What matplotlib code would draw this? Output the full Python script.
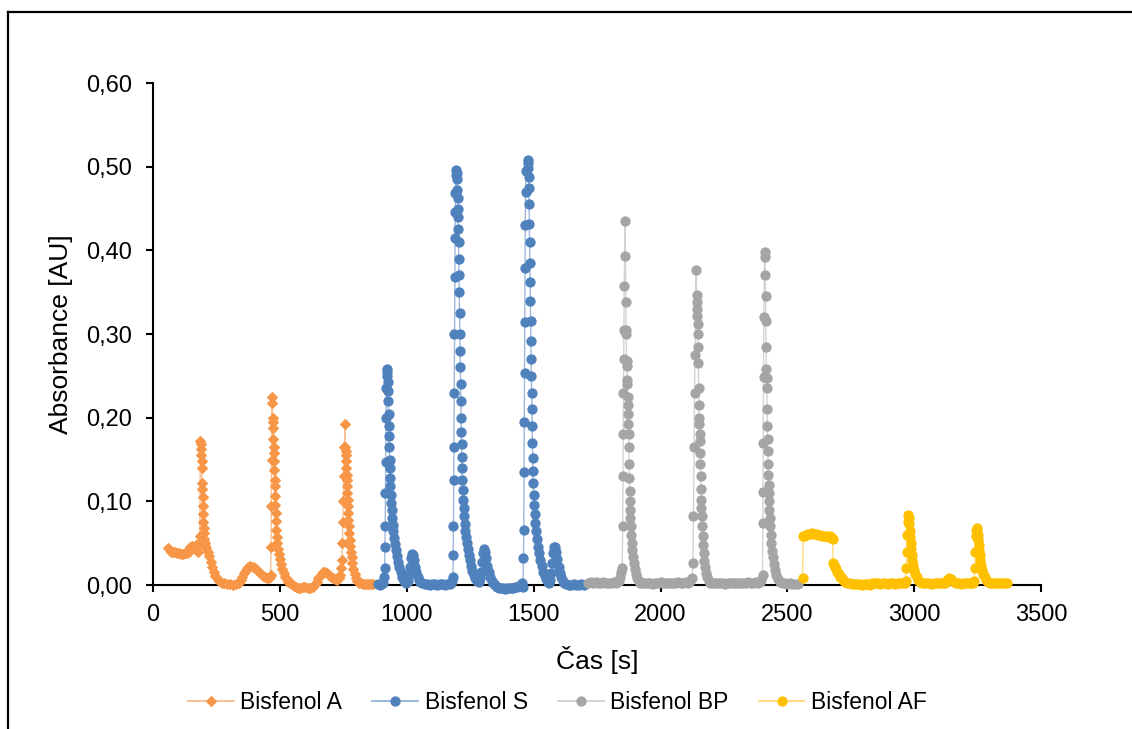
import matplotlib
matplotlib.use("Agg")
import matplotlib.pyplot as plt
from matplotlib.lines import Line2D
from matplotlib.ticker import FuncFormatter, MultipleLocator

plt.rcParams['font.family'] = ['Liberation Sans', 'DejaVu Sans']

# ============================================================================
# DATA
# ============================================================================
bpa_t = [60, 65, 70, 78, 86, 94, 102, 110, 118, 126,
         134, 140, 146, 152, 158, 164, 170, 176, 180, 184,
         187, 188, 189, 190, 191, 192, 193, 194, 195, 196, 197, 198, 199, 200, 202, 204, 206,
         210, 216, 222, 228, 234, 240, 246, 252, 260, 270, 280, 292, 304, 316, 328, 338,
         345, 352, 360, 368, 376, 384, 392, 400, 408, 416, 424, 432, 440, 448, 456, 462,
         463, 465, 466, 467, 468,
         470, 471, 472, 473, 474, 475, 476, 477, 478, 479, 480, 481, 482, 483, 484, 486, 488, 490, 493, 496,
         500, 505, 510, 515, 520, 526, 533, 540, 548, 556, 564, 572, 580, 590, 600, 610, 620, 630, 638,
         645, 652, 660, 668, 676, 684, 692, 700, 708, 716, 724, 732, 738, 742,
         744, 746, 748, 750, 752, 754, 756,
         758, 759, 760, 761, 762, 763, 764, 765, 766, 767, 768, 769, 770, 772, 774, 776, 778, 780,
         783, 786, 790, 794, 798, 803, 810, 818, 826, 834, 842, 850, 858, 866]
bpa_a = [0.044, 0.042, 0.040, 0.039, 0.039, 0.038, 0.038, 0.037, 0.037, 0.038,
         0.038, 0.040, 0.045, 0.047, 0.046, 0.044, 0.048, 0.040, 0.050, 0.058,
         0.172, 0.168, 0.163, 0.155, 0.148, 0.140, 0.122, 0.115, 0.105, 0.095, 0.085, 0.075, 0.068, 0.062, 0.055, 0.050, 0.047,
         0.044, 0.040, 0.035, 0.028, 0.021, 0.015, 0.011, 0.008, 0.005, 0.003, 0.002, 0.001, 0.001, 0.000, 0.001, 0.003,
         0.006, 0.010, 0.014, 0.018, 0.021, 0.023, 0.022, 0.020, 0.018, 0.015, 0.013, 0.011, 0.009, 0.008, 0.008, 0.010,
         0.012, 0.045, 0.095, 0.150, 0.225,
         0.218, 0.200, 0.195, 0.188, 0.175, 0.165, 0.158, 0.148, 0.138, 0.125, 0.118, 0.106, 0.096, 0.086, 0.076, 0.066, 0.057, 0.050, 0.043, 0.037,
         0.031, 0.025, 0.019, 0.014, 0.010, 0.007, 0.004, 0.002, 0.001, -0.001, -0.002, -0.003, -0.003, -0.002, -0.002, -0.003, -0.003, -0.002, 0.001,
         0.004, 0.008, 0.012, 0.015, 0.016, 0.014, 0.012, 0.010, 0.008, 0.007, 0.006, 0.008, 0.012, 0.020,
         0.030, 0.050, 0.075, 0.100, 0.130, 0.165, 0.193,
         0.165, 0.160, 0.155, 0.148, 0.140, 0.132, 0.125, 0.118, 0.110, 0.102, 0.094, 0.086, 0.078, 0.070, 0.062, 0.054, 0.047, 0.040,
         0.033, 0.026, 0.019, 0.013, 0.008, 0.005, 0.003, 0.002, 0.001, 0.001, 0.001, 0.001, 0.001, 0.001]

bps_t = [885, 893, 900, 906, 910,
         913, 914, 915, 916, 917, 918, 919, 921,
         923, 924, 925, 926, 927, 928, 929, 930, 931, 932, 933, 934, 935, 936, 938, 940, 942, 944, 946,
         949, 952, 956, 960, 965, 970, 976, 982, 990, 998,
         1005, 1010, 1014, 1018, 1022, 1026, 1030, 1034, 1038, 1043, 1048, 1054, 1060,
         1070, 1080, 1090, 1100, 1110, 1120, 1130, 1140, 1150, 1160, 1170, 1176, 1180,
         1182, 1183, 1184, 1185, 1186, 1187, 1188, 1189, 1190, 1191, 1192, 1193, 1195,
         1197, 1198, 1199, 1200, 1201, 1202, 1203, 1204, 1205, 1206, 1207, 1208, 1209, 1210, 1211, 1212, 1213, 1214, 1215, 1216,
         1217, 1218, 1219, 1220, 1222, 1224, 1226, 1228, 1230, 1233, 1236, 1240, 1244, 1248, 1253, 1258, 1264, 1270, 1277, 1284,
         1290, 1294, 1298, 1302, 1306, 1310, 1314, 1318, 1323, 1328, 1334, 1340,
         1348, 1356, 1364, 1372, 1380, 1388, 1396, 1404, 1412, 1420, 1428, 1436, 1444, 1450,
         1454, 1458, 1460, 1461, 1462, 1463, 1464, 1465, 1466, 1467, 1468, 1470, 1476,
         1478, 1479, 1480, 1481, 1482, 1483, 1484, 1485, 1486, 1487, 1488, 1489, 1490, 1491, 1492, 1493, 1494, 1495, 1496, 1497, 1498,
         1500, 1502, 1504, 1507, 1510, 1513, 1517, 1521, 1526, 1531, 1537, 1543, 1549, 1555, 1561,
         1566, 1570, 1574, 1578, 1582, 1586, 1590, 1594, 1598, 1603, 1608, 1614, 1620, 1628,
         1638, 1648, 1658, 1668, 1678, 1688, 1698]
bps_a = [0.001, 0.000, 0.001, 0.003, 0.010,
         0.020, 0.046, 0.070, 0.110, 0.147, 0.200, 0.235, 0.258,
         0.255, 0.250, 0.243, 0.232, 0.220, 0.205, 0.190, 0.178, 0.165, 0.150, 0.140, 0.128, 0.118, 0.108, 0.098, 0.090, 0.080, 0.072, 0.064,
         0.056, 0.049, 0.042, 0.035, 0.028, 0.021, 0.015, 0.010, 0.005, 0.003,
         0.005, 0.012, 0.022, 0.032, 0.037, 0.036, 0.030, 0.022, 0.015, 0.010, 0.006, 0.004, 0.002,
         0.001, 0.001, 0.000, 0.001, 0.001, 0.000, 0.001, 0.001, 0.000, 0.001, 0.001, 0.003, 0.005,
         0.010, 0.036, 0.070, 0.125, 0.165, 0.230, 0.300, 0.368, 0.415, 0.446, 0.468, 0.490, 0.496,
         0.492, 0.485, 0.472, 0.462, 0.450, 0.440, 0.425, 0.410, 0.390, 0.370, 0.350, 0.325, 0.300, 0.280, 0.260, 0.240, 0.220, 0.200, 0.183, 0.168,
         0.153, 0.140, 0.126, 0.114, 0.102, 0.092, 0.082, 0.073, 0.065, 0.057, 0.050, 0.043, 0.036, 0.030, 0.023, 0.017, 0.012, 0.008, 0.005, 0.004,
         0.008, 0.016, 0.028, 0.038, 0.043, 0.040, 0.032, 0.023, 0.015, 0.009, 0.005, 0.002,
         0.000, -0.002, -0.003, -0.004, -0.004, -0.005, -0.004, -0.004, -0.003, -0.003, -0.002, -0.002, -0.001, 0.000,
         0.002, -0.002, 0.032, 0.066, 0.135, 0.195, 0.254, 0.314, 0.379, 0.430, 0.470, 0.495, 0.508,
         0.505, 0.498, 0.488, 0.475, 0.455, 0.432, 0.410, 0.385, 0.362, 0.340, 0.315, 0.292, 0.270, 0.250, 0.230, 0.210, 0.190, 0.170, 0.152, 0.136, 0.122,
         0.108, 0.096, 0.085, 0.074, 0.064, 0.055, 0.046, 0.038, 0.030, 0.023, 0.016, 0.011, 0.007, 0.004, 0.003,
         0.006, 0.014, 0.026, 0.038, 0.045, 0.046, 0.040, 0.031, 0.022, 0.014, 0.009, 0.005, 0.003, 0.001,
         0.000, 0.000, 0.001, 0.000, 0.000, 0.001, 0.000]

bpbp_t = [1715, 1725, 1735, 1745, 1755, 1765, 1775, 1785, 1795, 1805, 1815, 1825, 1835, 1842,
          1846, 1849, 1851, 1852, 1853, 1854, 1855, 1856, 1857, 1860,
          1862, 1863, 1864, 1865, 1866, 1867, 1868, 1869, 1870, 1871, 1872, 1873, 1874, 1875, 1876, 1877, 1878, 1879, 1880, 1881,
          1883, 1885, 1887, 1889, 1892, 1895, 1899, 1903, 1908, 1914, 1921, 1930,
          1940, 1950, 1960, 1970, 1980, 1990, 2000, 2010, 2020, 2030, 2040, 2050, 2060, 2070, 2080, 2090, 2100, 2110, 2118,
          2124, 2128, 2130, 2132, 2134, 2136, 2140,
          2142, 2143, 2144, 2145, 2146, 2147, 2148, 2149, 2150, 2151, 2152, 2153, 2154, 2155, 2156, 2157, 2158, 2159, 2160, 2161,
          2162, 2164, 2166, 2168, 2170, 2173, 2176, 2180, 2185, 2190, 2197, 2205,
          2215, 2225, 2235, 2245, 2255, 2265, 2275, 2285, 2295, 2305, 2315, 2325, 2335, 2345, 2355, 2365, 2375, 2385, 2393, 2398,
          2402, 2403, 2404, 2405, 2406, 2407, 2410,
          2412, 2413, 2414, 2415, 2416, 2417, 2418, 2419, 2420, 2421, 2422, 2423, 2424, 2425, 2426, 2427, 2428, 2429, 2431, 2433,
          2435, 2437, 2440, 2443, 2447, 2451, 2456, 2462, 2470, 2480, 2490, 2500, 2510, 2520, 2530, 2540]
bpbp_a = [0.003, 0.004, 0.002, 0.004, 0.003, 0.002, 0.004, 0.003, 0.002, 0.003, 0.004, 0.003, 0.005, 0.010,
          0.015, 0.020, 0.070, 0.130, 0.180, 0.230, 0.270, 0.305, 0.358, 0.435,
          0.393, 0.338, 0.305, 0.300, 0.268, 0.262, 0.245, 0.240, 0.225, 0.215, 0.205, 0.192, 0.180, 0.165, 0.145, 0.128, 0.112, 0.100, 0.090, 0.080,
          0.070, 0.060, 0.050, 0.042, 0.034, 0.026, 0.019, 0.013, 0.008, 0.005, 0.003, 0.002,
          0.003, 0.002, 0.002, 0.001, 0.002, 0.003, 0.004, 0.003, 0.002, 0.003, 0.003, 0.002, 0.003, 0.004, 0.003, 0.003, 0.004, 0.003, 0.005,
          0.008, 0.026, 0.082, 0.165, 0.230, 0.275, 0.376,
          0.347, 0.338, 0.330, 0.322, 0.312, 0.300, 0.285, 0.265, 0.235, 0.215, 0.200, 0.192, 0.180, 0.172, 0.158, 0.145, 0.130, 0.115, 0.102, 0.092,
          0.082, 0.070, 0.058, 0.048, 0.038, 0.029, 0.021, 0.014, 0.009, 0.005, 0.003, 0.002,
          0.002, 0.003, 0.002, 0.002, 0.001, 0.002, 0.003, 0.003, 0.002, 0.003, 0.003, 0.002, 0.003, 0.004, 0.003, 0.003, 0.004, 0.003, 0.004, 0.006,
          0.012, 0.074, 0.111, 0.170, 0.249, 0.320, 0.398,
          0.392, 0.370, 0.345, 0.315, 0.285, 0.258, 0.248, 0.235, 0.210, 0.190, 0.175, 0.160, 0.145, 0.132, 0.120, 0.110, 0.100, 0.090, 0.080, 0.070,
          0.060, 0.050, 0.041, 0.033, 0.025, 0.018, 0.012, 0.007, 0.004, 0.002, 0.002, 0.001, 0.002, 0.001, 0.001, 0.001]

bpaf_t = [2560, 2562, 2566, 2572, 2580, 2588, 2596, 2604, 2612, 2620, 2628, 2636, 2644, 2652, 2660, 2668, 2674, 2678,
          2680, 2684, 2688, 2692, 2697, 2702, 2708, 2714, 2720, 2728, 2736, 2745, 2755,
          2765, 2775, 2785, 2795, 2805, 2815, 2825, 2835, 2845, 2855, 2865, 2875, 2885, 2895, 2905, 2915, 2925, 2935, 2945, 2955, 2962,
          2966, 2968, 2970, 2972, 2974, 2976,
          2978, 2980, 2982, 2984, 2986, 2988, 2990, 2993, 2996, 3000, 3004, 3009, 3015, 3022, 3030, 3040,
          3050, 3060, 3070, 3080, 3090, 3100, 3110, 3120, 3130, 3138, 3146, 3155, 3165, 3175, 3185, 3195, 3205, 3215, 3225, 3232,
          3236, 3238, 3240, 3242, 3244, 3246,
          3248, 3250, 3252, 3254, 3256, 3258, 3261, 3264, 3268, 3272, 3277, 3283, 3290, 3298,
          3306, 3316, 3326, 3336, 3346, 3356, 3366]
bpaf_a = [0.008, 0.058, 0.059, 0.060, 0.061, 0.061, 0.062, 0.061, 0.061, 0.060, 0.060, 0.059, 0.059, 0.058, 0.057, 0.058, 0.056, 0.055,
          0.026, 0.024, 0.021, 0.019, 0.016, 0.013, 0.010, 0.008, 0.006, 0.004, 0.003, 0.002, 0.001,
          0.001, 0.001, 0.001, 0.000, 0.001, 0.001, 0.000, 0.002, 0.002, 0.002, 0.001, 0.002, 0.002, 0.001, 0.002, 0.002, 0.001, 0.002, 0.002, 0.002, 0.003,
          0.005, 0.020, 0.040, 0.060, 0.075, 0.084,
          0.080, 0.073, 0.065, 0.057, 0.050, 0.043, 0.036, 0.030, 0.024, 0.018, 0.013, 0.009, 0.006, 0.004, 0.003, 0.002,
          0.002, 0.002, 0.001, 0.002, 0.002, 0.002, 0.002, 0.003, 0.006, 0.008, 0.007, 0.004, 0.002, 0.002, 0.001, 0.002, 0.002, 0.002, 0.002, 0.003,
          0.005, 0.020, 0.040, 0.058, 0.066, 0.068,
          0.064, 0.060, 0.054, 0.048, 0.042, 0.036, 0.030, 0.024, 0.018, 0.013, 0.009, 0.006, 0.004, 0.003,
          0.002, 0.002, 0.002, 0.002, 0.002, 0.002, 0.002]

series_labels = ['Bisfenol A', 'Bisfenol S', 'Bisfenol BP', 'Bisfenol AF']

# ============================================================================
# PLOT
# ============================================================================
fig = plt.figure(figsize=(11.32, 7.29), dpi=100)
ax = fig.add_axes([0.1352, 0.1975, 0.7845, 0.6886])

# marker colour, lighter connecting line, marker shape, marker size
styles = [
    ('#F79646', '#F9C197', 'D', 4.8),
    ('#4F81BD', '#9DB8DB', 'o', 6.6),
    ('#A5A5A5', '#D3D3D3', 'o', 6.6),
    ('#FFC000', '#FFDC80', 'o', 6.6),
]
all_t = [bpa_t, bps_t, bpbp_t, bpaf_t]
all_a = [bpa_a, bps_a, bpbp_a, bpaf_a]

for t, a, label, (mc, lc, mk, ms) in zip(all_t, all_a, series_labels, styles):
    ax.plot(t, a, color=lc, linewidth=1.0, marker=mk, markersize=ms,
            markerfacecolor=mc, markeredgecolor=mc, markeredgewidth=0.8,
            label=label, clip_on=False, zorder=3)

ax.set_xlim(0, 3500)
ax.set_ylim(0, 0.6)
ax.xaxis.set_major_locator(MultipleLocator(500))
ax.yaxis.set_major_locator(MultipleLocator(0.1))
ax.yaxis.set_major_formatter(FuncFormatter(lambda v, p: f'{v:.2f}'.replace('.', ',')))

for side in ['top', 'right']:
    ax.spines[side].set_visible(False)
for side in ['left', 'bottom']:
    ax.spines[side].set_linewidth(1.5)
    ax.spines[side].set_color('black')

ax.tick_params(axis='both', direction='out', length=5, width=1.5, labelsize=17, colors='black')
ax.tick_params(axis='y', pad=10)
ax.tick_params(axis='x', pad=9)

ax.set_xlabel('Čas [s]', fontsize=19)
ax.set_ylabel('Absorbance [AU]', fontsize=19)
ax.xaxis.set_label_coords(0.5, -0.149)
ax.xaxis.label.set_va('center')
ax.yaxis.set_label_coords(-0.1036, 0.5)
ax.yaxis.label.set_va('center')

leg = fig.legend(loc='center', bbox_to_anchor=(0.4925, 0.037), ncol=4, frameon=False,
                 fontsize=16.5, handlelength=2.0, handletextpad=0.3, columnspacing=1.3)
for h in leg.legend_handles:
    h.set_linewidth(1.4)

# outer chart frame (left + top edges visible in the screenshot)
fig.add_artist(Line2D([0.0075, 0.0075], [0.0, 0.983], transform=fig.transFigure,
                      color='black', linewidth=1.6))
fig.add_artist(Line2D([0.0075, 1.0], [0.983, 0.983], transform=fig.transFigure,
                      color='black', linewidth=1.6))

plt.savefig('out.png', dpi=100, facecolor='white')
print("saved out.png")
